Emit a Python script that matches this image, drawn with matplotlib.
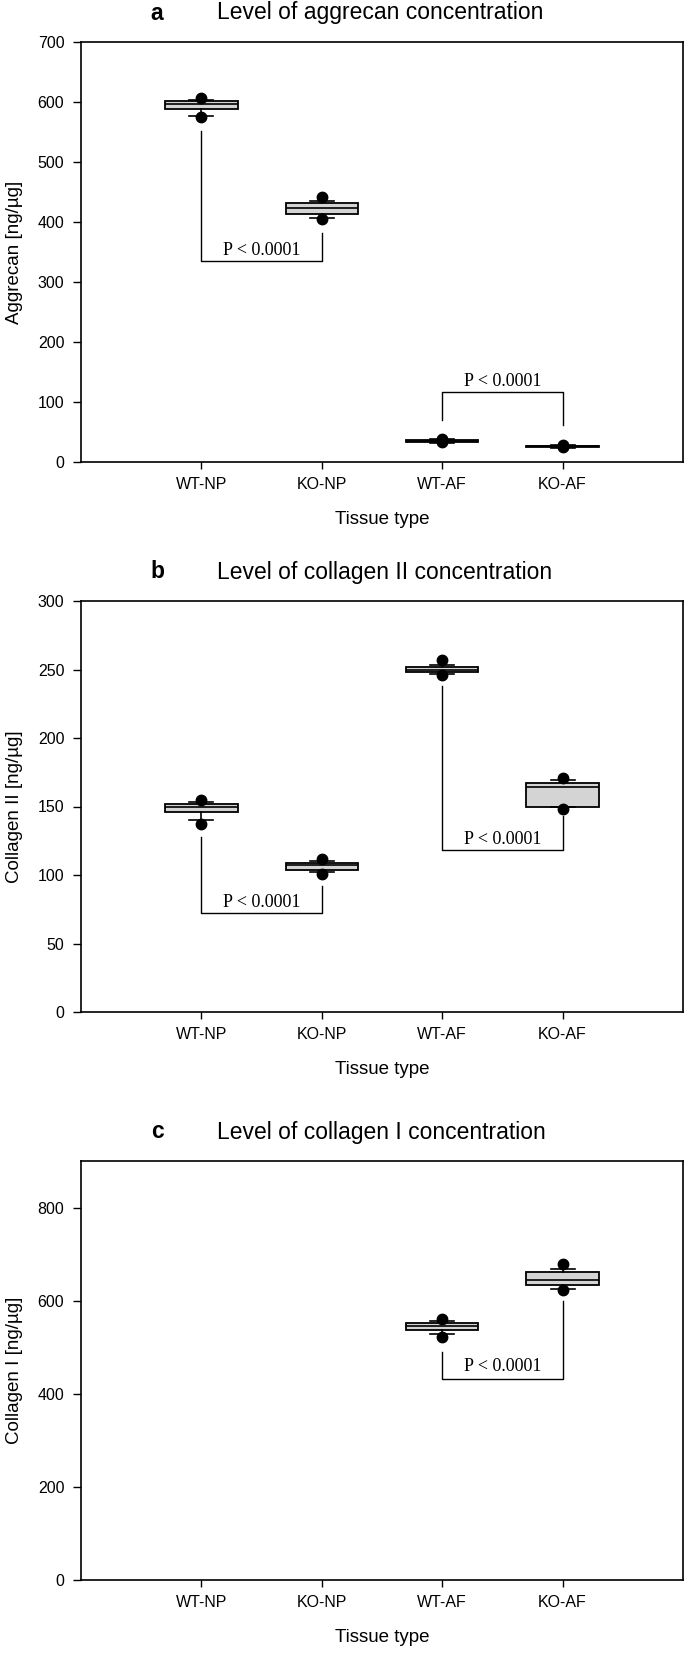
import matplotlib.pyplot as plt

plt.rcParams['font.family'] = ['Liberation Sans', 'DejaVu Sans']

tissues = ['WT-NP', 'KO-NP', 'WT-AF', 'KO-AF']

# panel a: aggrecan (ng/ug)
agg_pos = [1, 2, 3, 4]
agg_q1 = [589, 413, 33.5, 25.5]
agg_med = [596, 424, 35, 26.5]
agg_q3 = [601, 432, 36.5, 27.5]
agg_lo = [577, 407, 32, 24]
agg_hi = [604, 435, 38, 29]
agg_dot_lo = [575, 405, 33.5, 25]
agg_dot_hi = [607, 441, 38, 29]
# brackets: x1, x2, left end, bar level, right end, text level
agg_brackets = [(1, 2, 552, 335, 381, 353), (3, 4, 70, 117, 61, 134)]

# panel b: collagen II
col2_pos = [1, 2, 3, 4]
col2_q1 = [146, 104, 248, 150]
col2_med = [149.5, 107, 250, 164]
col2_q3 = [151.5, 109, 251.7, 167]
col2_lo = [140, 102, 247, 150]
col2_hi = [153, 110.5, 253, 169]
col2_dot_lo = [137.5, 101, 246, 148]
col2_dot_hi = [155, 112, 257, 171]
col2_brackets = [(1, 2, 128, 72, 92, 80), (3, 4, 238, 118, 143, 126)]

# panel c: collagen I (only AF measured)
col1_pos = [3, 4]
col1_q1 = [537, 634]
col1_med = [545, 645]
col1_q3 = [552, 662]
col1_lo = [528, 626]
col1_hi = [556, 668]
col1_dot_lo = [522, 623]
col1_dot_hi = [560, 678]
col1_brackets = [(3, 4, 490, 432, 600, 458)]

W, H = 686, 1654
fig = plt.figure(figsize=(W / 100, H / 100), dpi=100)


def add_axes(top_px, bottom_px):
    left, right = 81, 683
    return fig.add_axes([left / W, 1 - bottom_px / H, (right - left) / W, (bottom_px - top_px) / H])


def draw_panel(ax, letter, title, ylabel, pos, q1, med, q3, lo, hi, dlo, dhi,
               brackets, ylim, yticks, height_px):
    stats = []
    for i in range(len(pos)):
        stats.append({'q1': q1[i], 'med': med[i], 'q3': q3[i],
                      'whislo': lo[i], 'whishi': hi[i],
                      'fliers': [dlo[i], dhi[i]]})
    ax.bxp(stats, positions=pos, widths=0.6, capwidths=0.2, patch_artist=True,
           boxprops=dict(facecolor='#d4d4d4', edgecolor='black', linewidth=1.3),
           medianprops=dict(color='black', linewidth=1.2),
           whiskerprops=dict(color='black', linewidth=1.2),
           capprops=dict(color='black', linewidth=1.2),
           flierprops=dict(marker='o', markerfacecolor='black',
                           markeredgecolor='black', markersize=7.5))

    for x1, x2, ya, yb, yc, yt in brackets:
        ax.plot([x1, x1, x2, x2], [ya, yb, yb, yc], color='black', lw=1.0)
        ax.text((x1 + x2) / 2, yt, 'P < 0.0001', ha='center', va='center',
                fontsize=13, family=['Liberation Serif', 'DejaVu Serif'])

    ax.set_xlim(0, 5)
    ax.set_ylim(*ylim)
    ax.set_xticks([1, 2, 3, 4])
    ax.set_xticklabels(tissues)
    ax.set_yticks(yticks)
    ax.tick_params(axis='x', length=5, width=1, pad=5.5, labelsize=11.5)
    ax.tick_params(axis='y', length=5.5, width=1, pad=6.5, labelsize=11.5)
    for s in ax.spines.values():
        s.set_linewidth(1.2)

    ax.text(-66 / 602, 0.5, ylabel, transform=ax.transAxes, rotation=90,
            ha='center', va='center', fontsize=13.5)
    ax.text(0.5, -58 / height_px, 'Tissue type', transform=ax.transAxes,
            ha='center', va='center', fontsize=13.5)

    ty = 1 + 29 / height_px
    ax.text(76 / 602, ty, letter, transform=ax.transAxes, ha='center',
            va='center', fontsize=16.5, fontweight='bold')
    ax.text(136 / 602, ty, title, transform=ax.transAxes, ha='left',
            va='center', fontsize=16.5)


ax_a = add_axes(42, 462)
draw_panel(ax_a, 'a', 'Level of aggrecan concentration', 'Aggrecan [ng/µg]',
           agg_pos, agg_q1, agg_med, agg_q3, agg_lo, agg_hi, agg_dot_lo, agg_dot_hi,
           agg_brackets, (0, 700), range(0, 701, 100), 420)

ax_b = add_axes(601, 1012)
draw_panel(ax_b, 'b', 'Level of collagen II concentration', 'Collagen II [ng/µg]',
           col2_pos, col2_q1, col2_med, col2_q3, col2_lo, col2_hi, col2_dot_lo, col2_dot_hi,
           col2_brackets, (0, 300), range(0, 301, 50), 411)

ax_c = add_axes(1161, 1580)
draw_panel(ax_c, 'c', 'Level of collagen I concentration', 'Collagen I [ng/µg]',
           col1_pos, col1_q1, col1_med, col1_q3, col1_lo, col1_hi, col1_dot_lo, col1_dot_hi,
           col1_brackets, (0, 900), range(0, 801, 200), 419)

fig.savefig('out.png', dpi=100)
